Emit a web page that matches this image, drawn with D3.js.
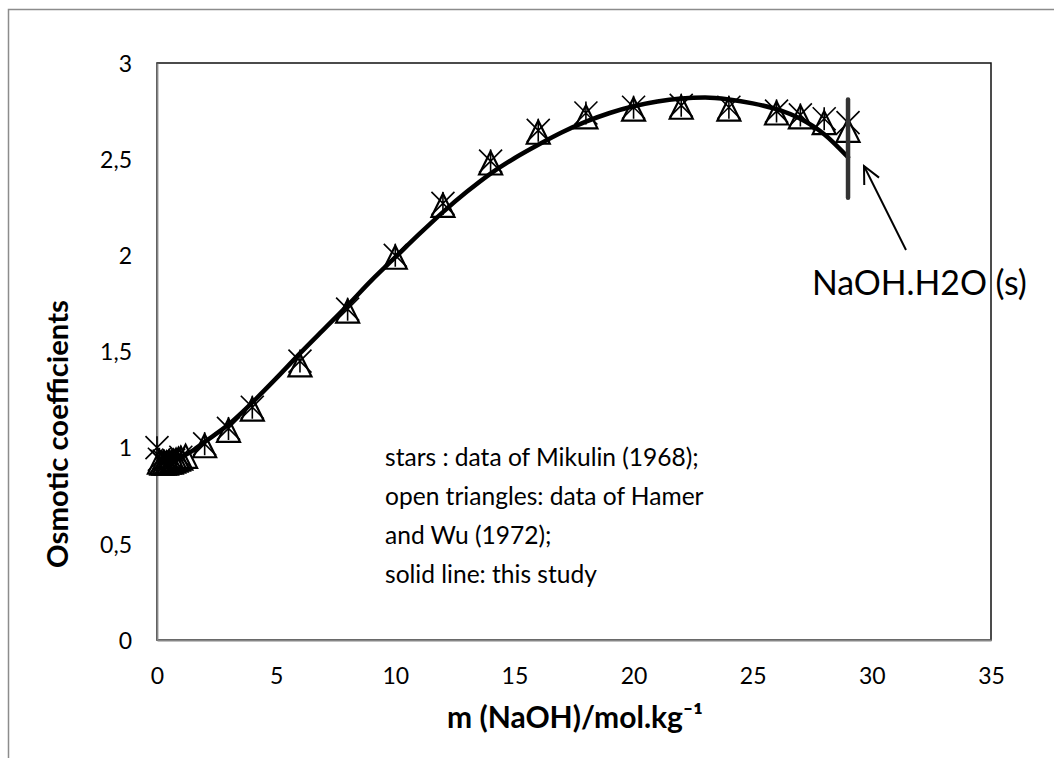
<!DOCTYPE html>
<html>
<head>
<meta charset="utf-8">
<script src="https://cdn.jsdelivr.net/npm/d3@7/dist/d3.min.js"></script>
<style>
  html, body { margin: 0; padding: 0; background: #fff; }
  svg { display: block; }
  text { font-family: Lato, "Open Sans", sans-serif; fill: #000; }
</style>
</head>
<body>
<svg id="chart" width="1054" height="758"></svg>
<script>
// ---------- data ----------
const xTicks = [0, 5, 10, 15, 20, 25, 30, 35];
const yTicks = [0, 0.5, 1, 1.5, 2, 2.5, 3];

// stars : Mikulin (1968)
const mikulinM   = [0, 0.1, 0.2, 0.3, 0.5, 0.7, 1.0, 2, 3, 4, 6, 8, 10, 12, 14, 16, 18, 20, 22, 24, 26, 27, 28, 29];
const mikulinPhi = [1.00, 0.94, 0.93, 0.93, 0.93, 0.935, 0.95, 1.02, 1.10, 1.21, 1.45, 1.72, 2.00, 2.27, 2.49, 2.65, 2.74, 2.77, 2.78, 2.77, 2.75, 2.73, 2.71, 2.69];

// open triangles : Hamer and Wu (1972)
const hamerM   = [0.1, 0.2, 0.3, 0.4, 0.5, 0.6, 0.7, 0.8, 0.9, 1.0, 1.2, 2, 3, 4, 6, 8, 10, 12, 14, 16, 18, 20, 22, 24, 26, 27, 28, 29];
const hamerPhi = [0.925, 0.92, 0.92, 0.92, 0.925, 0.925, 0.93, 0.935, 0.94, 0.945, 0.955, 1.01, 1.09, 1.20, 1.43, 1.71, 1.99, 2.26, 2.48, 2.64, 2.72, 2.76, 2.77, 2.76, 2.74, 2.72, 2.69, 2.65];

// solid line : this study
const modelM   = [0.1, 0.5, 1, 1.5, 2, 3, 4, 5, 6, 7, 8, 9, 10, 11, 12, 13, 14, 15, 16, 17, 18, 19, 20, 21, 22, 23, 24, 25, 26, 27, 28, 29];
const modelPhi = [0.925, 0.925, 0.95, 0.985, 1.03, 1.12, 1.235, 1.36, 1.49, 1.615, 1.74, 1.87, 1.99, 2.11, 2.225, 2.33, 2.425, 2.505, 2.575, 2.64, 2.695, 2.74, 2.775, 2.80, 2.815, 2.82, 2.81, 2.79, 2.76, 2.71, 2.63, 2.51];

// solubility limit NaOH.H2O(s)
const solubilityM = 29;
const solubilityBar = [2.30, 2.81];
const annotationText = "NaOH.H2O (s)";

const legendLines = [
  "stars : data of Mikulin (1968);",
  "open triangles: data of Hamer",
  "and Wu (1972);",
  "solid line: this study"
];
const xTitle = "m (NaOH)/mol.kg\u207B\u00B9";
const yTitle = "Osmotic coefficients";

// ---------- layout ----------
const svg = d3.select("#chart");
const plot = { left: 157, right: 991, top: 63, bottom: 640 };

const x = d3.scaleLinear().domain([0, 35]).range([plot.left, plot.right]);
const y = d3.scaleLinear().domain([0, 3]).range([plot.bottom, plot.top]);

function fitWidth(sel, target) {
  const w = sel.node().getComputedTextLength();
  const fs = parseFloat(sel.style("font-size"));
  const nfs = fs * target / w;
  sel.style("font-size", nfs + "px");
  return nfs;
}

// outer chart frame (cut off at right and bottom)
svg.append("rect")
  .attr("x", 8.5).attr("y", 9.5).attr("width", 2000).attr("height", 2000)
  .attr("fill", "none").attr("stroke", "#8c8c8c").attr("stroke-width", 1.5);

// plot-area border
svg.append("rect")
  .attr("x", plot.left).attr("y", plot.top)
  .attr("width", plot.right - plot.left).attr("height", plot.bottom - plot.top)
  .attr("fill", "none").attr("stroke", "#111").attr("stroke-width", 1.5);

// axes
const fmt = d => String(d).replace(".", ",");
const xAxis = svg.append("g").attr("transform", `translate(0,${plot.bottom})`)
  .call(d3.axisBottom(x).tickValues(xTicks).tickSize(0).tickPadding(28).tickFormat(fmt));
const yAxis = svg.append("g").attr("transform", `translate(${plot.left},0)`)
  .call(d3.axisLeft(y).tickValues(yTicks).tickSize(0).tickPadding(25).tickFormat(fmt));
[xAxis, yAxis].forEach(g => {
  g.select(".domain").attr("stroke", "#868686").attr("stroke-width", 1.8);
  g.selectAll("text").style("font-family", "Lato, 'Open Sans', sans-serif")
    .style("font-size", "23px").attr("fill", "#000");
});
yAxis.selectAll("text").attr("dy", "0.36em");

// markers: open triangles (Hamer & Wu)
const hamer = hamerM.map((m, i) => [m, hamerPhi[i]]);
const mik = mikulinM.map((m, i) => [m, mikulinPhi[i]]);
const s = 11.5;
svg.append("g").selectAll("path").data(hamer).join("path")
  .attr("transform", d => `translate(${x(d[0])},${y(d[1])})`)
  .attr("d", `M0,${-s}L${s},${s}L${-s},${s}Z`)
  .attr("fill", "none").attr("stroke", "#000").attr("stroke-width", 2.2)
  .attr("stroke-linejoin", "miter");

// markers: stars (Mikulin) - X with vertical bar
svg.append("g").selectAll("path").data(mik).join("path")
  .attr("transform", d => `translate(${x(d[0])},${y(d[1])})`)
  .attr("d", `M${-s},${-s}L${s},${s}M${s},${-s}L${-s},${s}M0,${-s}L0,${s}`)
  .attr("fill", "none").attr("stroke", "#000").attr("stroke-width", 1.6);

// model line
const model = modelM.map((m, i) => [m, modelPhi[i]]);
svg.append("path").datum(model)
  .attr("d", d3.line().x(d => x(d[0])).y(d => y(d[1])).curve(d3.curveMonotoneX))
  .attr("fill", "none").attr("stroke", "#000").attr("stroke-width", 4.5)
  .attr("stroke-linecap", "round").attr("stroke-linejoin", "round");

// solubility bar
svg.append("line")
  .attr("x1", x(solubilityM)).attr("x2", x(solubilityM))
  .attr("y1", y(solubilityBar[0])).attr("y2", y(solubilityBar[1]))
  .attr("stroke", "#333").attr("stroke-width", 4.5).attr("stroke-linecap", "round");

// arrow
const arrFrom = [906, 250], arrTo = [864, 166];
svg.append("line")
  .attr("x1", arrFrom[0]).attr("y1", arrFrom[1]).attr("x2", arrTo[0]).attr("y2", arrTo[1])
  .attr("stroke", "#000").attr("stroke-width", 2);
{
  const ang = Math.atan2(arrFrom[1] - arrTo[1], arrFrom[0] - arrTo[0]);
  const L = 19, spread = 0.45;
  const p1 = [arrTo[0] + L * Math.cos(ang + spread), arrTo[1] + L * Math.sin(ang + spread)];
  const p2 = [arrTo[0] + L * Math.cos(ang - spread), arrTo[1] + L * Math.sin(ang - spread)];
  svg.append("path")
    .attr("d", `M${p1}L${arrTo}L${p2}`)
    .attr("fill", "none").attr("stroke", "#000").attr("stroke-width", 2)
    .attr("stroke-linejoin", "miter");
}

// annotation text
const ann = svg.append("text").attr("x", 812).attr("y", 295)
  .style("font-size", "31px").text(annotationText);
fitWidth(ann, 215);

// legend text block
const lg = svg.append("g");
const l0 = lg.append("text").attr("x", 385).attr("y", 466).style("font-size", "23.5px").text(legendLines[0]);
const lfs = fitWidth(l0, 314);
legendLines.slice(1).forEach((t, i) => {
  lg.append("text").attr("x", 385).attr("y", 466 + (i + 1) * 39)
    .style("font-size", lfs + "px").text(t);
});

// axis titles
const xt = svg.append("text").attr("x", (plot.left + plot.right) / 2 + 1).attr("y", 728)
  .attr("text-anchor", "middle").style("font-weight", "bold").style("font-size", "29px").text(xTitle);
fitWidth(xt, 256);
const yt = svg.append("text").attr("transform", "translate(68,434) rotate(-90)")
  .attr("text-anchor", "middle").style("font-weight", "bold").style("font-size", "29px").text(yTitle);
fitWidth(yt, 268);
</script>
</body>
</html>
